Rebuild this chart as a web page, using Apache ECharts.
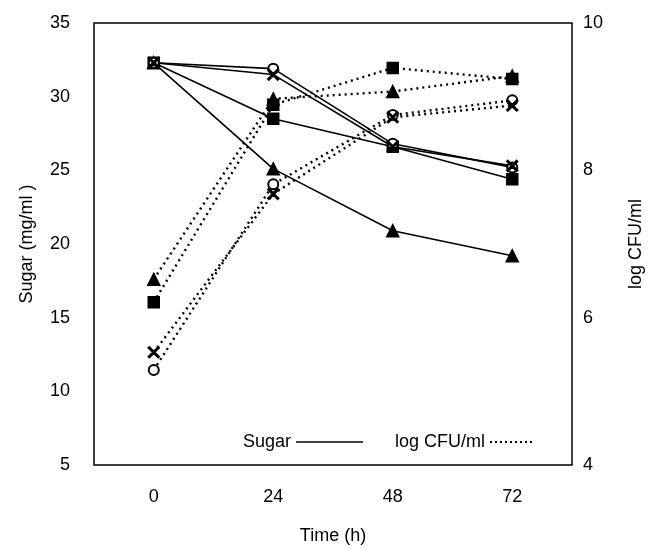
<!DOCTYPE html>
<html>
<head>
<meta charset="utf-8">
<script src="https://cdn.jsdelivr.net/npm/echarts@6/dist/echarts.min.js"></script>
<style>
  html, body { margin: 0; padding: 0; background: #fff; }
  #chart { width: 656px; height: 550px; }
</style>
</head>
<body>
<div id="chart"></div>
<script>
// time points (h)
const timeLabels = ['0', '24', '48', '72']

// sugar, mg/ml (solid lines)
const sugarSquare = [32.3, 28.5, 26.6, 24.4]
const sugarTriangle = [32.3, 25.1, 20.9, 19.2]
const sugarCircle = [32.3, 31.9, 26.8, 25.2]
const sugarCross = [32.3, 31.5, 26.6, 25.3]

// log CFU/ml (dotted lines)
const cfuSquare = [6.21, 8.89, 9.39, 9.24]
const cfuTriangle = [6.52, 8.97, 9.07, 9.28]
const cfuCircle = [5.29, 7.81, 8.75, 8.95]
const cfuCross = [5.53, 7.68, 8.72, 8.88]

const FONT = 'Liberation Sans'
const crossPath = 'path://M0,1L1,0L5,4L9,0L10,1L6,5L10,9L9,10L5,6L1,10L0,9L4,5Z'

// legend icon for dotted line: a row of small dots
let dotIcon = 'path://'
for (let i = 0; i < 9; i++) {
  dotIcon += 'M' + (i * 5) + ',0h2v2h-2Z'
}

function sugarLine(data, symbol, size) {
  return {
    type: 'line',
    yAxisIndex: 0,
    data: data,
    symbol: symbol,
    symbolSize: size,
    lineStyle: { color: '#000', width: 1.6, type: 'solid' },
    itemStyle: { color: '#000', borderColor: '#000', borderWidth: 1.5 },
    z: 3
  }
}

function cfuLine(data, symbol, size) {
  return {
    type: 'line',
    yAxisIndex: 1,
    data: data,
    symbol: symbol,
    symbolSize: size,
    lineStyle: { color: '#000', width: 2.4, type: [2, 4] },
    itemStyle: { color: '#000', borderColor: '#000', borderWidth: 1.5 },
    z: 2
  }
}

const myChart = echarts.init(document.getElementById('chart'))
myChart.setOption({
  animation: false,
  backgroundColor: '#fff',
  textStyle: { fontFamily: FONT, color: '#000' },
  grid: {
    left: 94,
    right: 84,
    top: 23,
    bottom: 77,
    show: true,
    borderColor: '#000',
    borderWidth: 1.5
  },
  legend: [
    {
      data: [{ name: 'Sugar', icon: 'rect' }],
      left: 238,
      top: 428,
      align: 'right',
      itemWidth: 67,
      itemHeight: 1.6,
      symbolKeepAspect: false,
      selectedMode: false,
      itemStyle: { color: '#000' },
      textStyle: { fontFamily: FONT, fontSize: 18, color: '#000' }
    },
    {
      data: [{ name: 'log CFU/ml', icon: dotIcon }],
      left: 390,
      top: 428,
      align: 'right',
      itemWidth: 42,
      itemHeight: 2,
      symbolKeepAspect: false,
      selectedMode: false,
      itemStyle: { color: '#000' },
      textStyle: { fontFamily: FONT, fontSize: 18, color: '#000' }
    }
  ],
  xAxis: {
    type: 'category',
    data: timeLabels,
    boundaryGap: true,
    name: 'Time (h)',
    nameLocation: 'middle',
    nameGap: 62,
    nameTextStyle: { fontFamily: FONT, fontSize: 18, color: '#000' },
    axisLine: { show: false },
    axisTick: { show: false },
    axisLabel: { fontFamily: FONT, fontSize: 18, color: '#000', margin: 23 },
    splitLine: { show: false }
  },
  yAxis: [
    {
      type: 'value',
      min: 5,
      max: 35,
      interval: 5,
      name: 'Sugar (mg/ml )',
      nameLocation: 'middle',
      nameRotate: 90,
      nameGap: 58,
      nameTextStyle: { fontFamily: FONT, fontSize: 18, color: '#000' },
      axisLine: { show: false },
      axisTick: { show: false },
      axisLabel: { fontFamily: FONT, fontSize: 18, color: '#000', margin: 24 },
      splitLine: { show: false }
    },
    {
      type: 'value',
      min: 4,
      max: 10,
      interval: 2,
      position: 'right',
      name: 'log CFU/ml',
      nameLocation: 'middle',
      nameRotate: 90,
      nameGap: 55,
      nameTextStyle: { fontFamily: FONT, fontSize: 18, color: '#000' },
      axisLine: { show: false },
      axisTick: { show: false },
      axisLabel: { fontFamily: FONT, fontSize: 18, color: '#000', margin: 11 },
      splitLine: { show: false }
    }
  ],
  series: [
    // legend-only entries
    {
      name: 'Sugar', type: 'line', data: [], symbol: 'none',
      lineStyle: { color: '#000', width: 1.6 }, itemStyle: { color: '#000' }
    },
    {
      name: 'log CFU/ml', type: 'line', data: [], symbol: 'none', yAxisIndex: 1,
      lineStyle: { color: '#000', width: 1.5, type: [1.5, 3.5] }, itemStyle: { color: '#000' }
    },
    cfuLine(cfuSquare, 'rect', 11),
    cfuLine(cfuTriangle, 'triangle', 12),
    cfuLine(cfuCircle, 'emptyCircle', 10),
    cfuLine(cfuCross, crossPath, 11),
    sugarLine(sugarSquare, 'rect', 11),
    sugarLine(sugarTriangle, 'triangle', 12),
    sugarLine(sugarCircle, 'emptyCircle', 10),
    sugarLine(sugarCross, crossPath, 11)
  ]
})
</script>
</body>
</html>
